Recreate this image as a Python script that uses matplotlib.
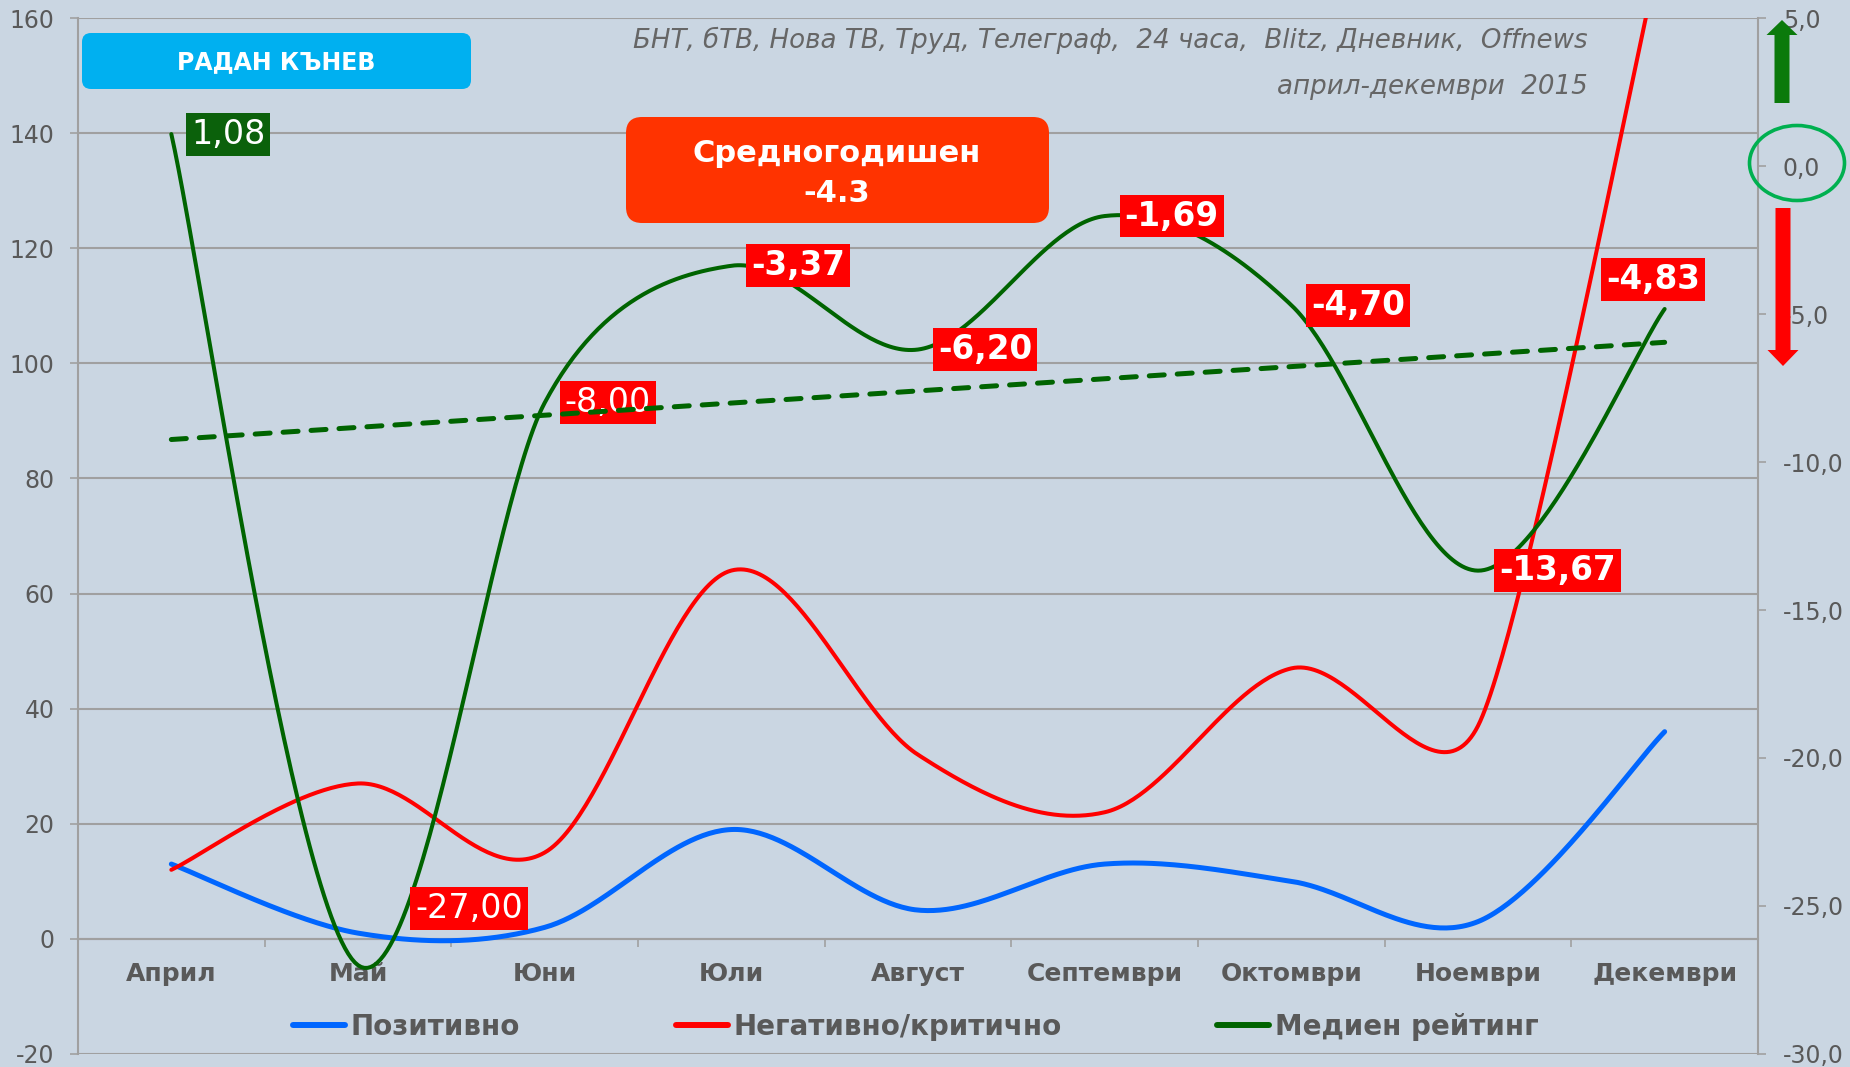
import numpy as np
import matplotlib
matplotlib.use("Agg")
import matplotlib.pyplot as plt
from matplotlib.patches import FancyBboxPatch, Ellipse, FancyArrow
from matplotlib.lines import Line2D
from matplotlib.ticker import FuncFormatter

# data
months = ["Април", "Май", "Юни", "Юли", "Август", "Септември", "Октомври", "Ноември", "Декември"]
positive = [13, 1, 2, 19, 5, 13, 10, 3, 36]
negative = [12, 27, 15, 64, 32, 22, 47, 37, 175]
rating = [1.08, -27.00, -8.00, -3.37, -6.20, -1.69, -4.70, -13.67, -4.83]
rating_labels = ["1,08", "-27,00", "-8,00", "-3,37", "-6,20", "-1,69", "-4,70", "-13,67", "-4,83"]
series_names = ["Позитивно", "Негативно/критично", "Медиен рейтинг"]
left_ticks = list(range(-20, 161, 20))
right_ticks = list(range(-30, 6, 5))
person = "РАДАН КЪНЕВ"
avg_title = "Средногодишен"
avg_value = "-4.3"
sources = "БНТ, бТВ, Нова ТВ, Труд, Телеграф,  24 часа,  Blitz, Дневник,  Offnews"
period = "април-декември  2015"

BG = "#CAD6E2"
GRID = "#A0A0A0"
TXT = "#595959"
BLUE = "#0066FF"
RED = "#FF0000"
GREEN = "#006400"

plt.rcParams['font.family'] = 'DejaVu Sans'

W, H = 1850, 1067
AX_RECT = [0.04216, 0.0122, 0.9081, 0.9709]
PX_X = AX_RECT[2] * W / 9.0       # pixels per category


def smooth(vals, px_y, n=60):
    # Excel-like smoothed line: bezier through the points, handles capped
    # by half the neighbouring segment length (in screen pixels)
    y = np.asarray(vals, float)
    x = np.arange(len(y), dtype=float)
    last = len(y) - 1
    sx, sy = x * PX_X, y * px_y
    tan = []
    for i in range(last + 1):
        i0, i2 = max(i - 1, 0), min(i + 1, last)
        d02 = np.hypot(sx[i2] - sx[i0], sy[i2] - sy[i0])
        segs = []
        if i0 != i:
            segs.append(np.hypot(sx[i] - sx[i0], sy[i] - sy[i0]))
        if i2 != i:
            segs.append(np.hypot(sx[i2] - sx[i], sy[i2] - sy[i]))
        f = 1 / 6
        if d02 > 0 and min(segs) / 2 < d02 / 6:
            f = min(segs) / (2 * d02)
        tan.append((f * (x[i2] - x[i0]), f * (y[i2] - y[i0])))
    xs, ys = [], []
    t = np.linspace(0, 1, n)
    b0, b1, b2, b3 = (1 - t) ** 3, 3 * (1 - t) ** 2 * t, 3 * (1 - t) * t ** 2, t ** 3
    for i in range(last):
        c1 = (x[i] + tan[i][0], y[i] + tan[i][1])
        c2 = (x[i + 1] - tan[i + 1][0], y[i + 1] - tan[i + 1][1])
        xs.append(b0 * x[i] + b1 * c1[0] + b2 * c2[0] + b3 * x[i + 1])
        ys.append(b0 * y[i] + b1 * c1[1] + b2 * c2[1] + b3 * y[i + 1])
    return np.concatenate(xs), np.concatenate(ys)


fig = plt.figure(figsize=(18.5, 10.67), dpi=100, facecolor=BG)
ax = fig.add_axes(AX_RECT, facecolor=BG)
ax2 = ax.twinx()
left_px = AX_RECT[3] * H / 180.0
right_px = AX_RECT[3] * H / 35.0

# left axis series
bx, by = smooth(positive, left_px)
ax.plot(bx, by, color=BLUE, lw=3.6, solid_capstyle='round', zorder=3)
rx, ry = smooth(negative, left_px)
ax.plot(rx, ry, color=RED, lw=2.9, solid_capstyle='round', zorder=3)

ax.set_xlim(-0.5, 8.5)
ax.set_ylim(-20, 160)
ax.set_yticks(left_ticks)
ax.yaxis.set_major_formatter(FuncFormatter(lambda v, p: f"{v:.0f}"))
ax.yaxis.grid(True, color=GRID, lw=1.5)
ax.set_axisbelow(True)
ax.tick_params(axis='y', length=5.8, width=1.2, color=GRID, pad=11, labelsize=17, labelcolor=TXT)
for s in ['top', 'right']:
    ax.spines[s].set_visible(False)
ax.spines['left'].set_color(GRID)
ax.spines['left'].set_linewidth(1.5)
ax.spines['bottom'].set_position(('data', 0))
ax.spines['bottom'].set_color(GRID)
ax.spines['bottom'].set_linewidth(1.5)
ax.set_xticks(np.arange(0.5, 8, 1))
ax.set_xticklabels([])
ax.set_xticks(range(len(months)), minor=True)
ax.set_xticklabels(months, minor=True, fontsize=18, fontweight='bold', color=TXT)
ax.tick_params(axis='x', which='major', length=6, width=1.2, color=GRID)
ax.tick_params(axis='x', which='minor', length=0, pad=16.5)

# right axis: media rating
gx, gy = smooth(rating, right_px)
ax2.plot(gx, gy, color=GREEN, lw=2.9, solid_capstyle='round', zorder=3)
coef = np.polyfit(np.arange(len(rating)), rating, 1)
tx = np.array([0, len(rating) - 1])
ax2.plot(tx, np.polyval(coef, tx), color=GREEN, lw=3.6, ls=(0, (3, 2.6)),
         dash_capstyle='round', zorder=6)
ax2.set_ylim(-30, 5)
ax2.set_yticks(right_ticks)
ax2.yaxis.set_major_formatter(FuncFormatter(lambda v, p: f"{v:.1f}".replace('.', ',')))
ax2.tick_params(axis='y', length=5.8, width=1.2, color=GRID, pad=12, labelsize=17, labelcolor=TXT)
for s in ['top', 'left', 'bottom']:
    ax2.spines[s].set_visible(False)
ax2.spines['right'].set_color(GRID)
ax2.spines['right'].set_linewidth(1.5)

# data labels for the rating
label_offsets = [(14.3, 0, 'left'), (41, 41, 'left'), (14.3, 0, 'left'), (14.3, 0, 'left'),
                 (14.3, 0, 'left'), (14.3, 0, 'left'), (14.3, 0, 'left'), (15.4, 0, 'left'),
                 (-8.5, 21, 'center')]
label_weights = ['normal', 'normal', 'normal', 'bold', 'bold', 'bold', 'bold', 'bold', 'bold']
for i, (v, txt) in enumerate(zip(rating, rating_labels)):
    dx, dy, ha = label_offsets[i]
    face = '#0B610B' if v > 0 else RED
    size = 24 if label_weights[i] == 'normal' else 23.5
    ax2.annotate(txt, xy=(i, v), xytext=(dx, dy), textcoords='offset points',
                 ha=ha, va='center', fontsize=size, fontweight=label_weights[i], color='white',
                 bbox=dict(boxstyle='square,pad=0.15', fc=face, ec='none'), zorder=5)

# legend
handles = [Line2D([], [], color=c, lw=4.3, solid_capstyle='round') for c in (BLUE, RED, GREEN)]
fig.legend(handles, series_names, loc='center', bbox_to_anchor=(0.495, 0.0375), ncol=3,
           frameon=False, prop={'weight': 'bold', 'size': 20}, labelcolor=TXT,
           handlelength=1.87, handletextpad=0.2, columnspacing=5.6)

# overlay in pixel coordinates for boxes, arrows and notes
ov = fig.add_axes([0, 0, 1, 1], zorder=10)
ov.set_xlim(0, W)
ov.set_ylim(H, 0)
ov.axis('off')
ov.patch.set_alpha(0)

ov.add_patch(FancyBboxPatch((82, 33), 389, 56, boxstyle='round,pad=0,rounding_size=9',
                            fc='#00B0F0', ec='none'))
ov.text(276, 62, person, ha='center', va='center', fontsize=17, fontweight='bold', color='white')

ov.add_patch(FancyBboxPatch((626, 117), 423, 106, boxstyle='round,pad=0,rounding_size=16',
                            fc='#FF3300', ec='none'))
ov.text(837, 154, avg_title, ha='center', va='center', fontsize=22, fontweight='bold', color='white')
ov.text(837, 193, avg_value, ha='center', va='center', fontsize=22, fontweight='bold', color='white')

ov.text(1588, 40, sources, ha='right', va='center', fontsize=18.8, style='italic', color='#666666')
ov.text(1588, 87, period, ha='right', va='center', fontsize=18.8, style='italic', color='#666666')

ov.add_patch(FancyArrow(1782, 103, 0, -83, width=15, head_width=31, head_length=15,
                        length_includes_head=True, color='#0B7A0B', ec='none'))
ov.add_patch(FancyArrow(1783, 208, 0, 158, width=15, head_width=31, head_length=16,
                        length_includes_head=True, color=RED, ec='none'))
ov.add_patch(Ellipse((1797, 163), 95, 75, fc='none', ec='#00B050', lw=2.6))

fig.savefig('out.png', dpi=100, facecolor=BG)
